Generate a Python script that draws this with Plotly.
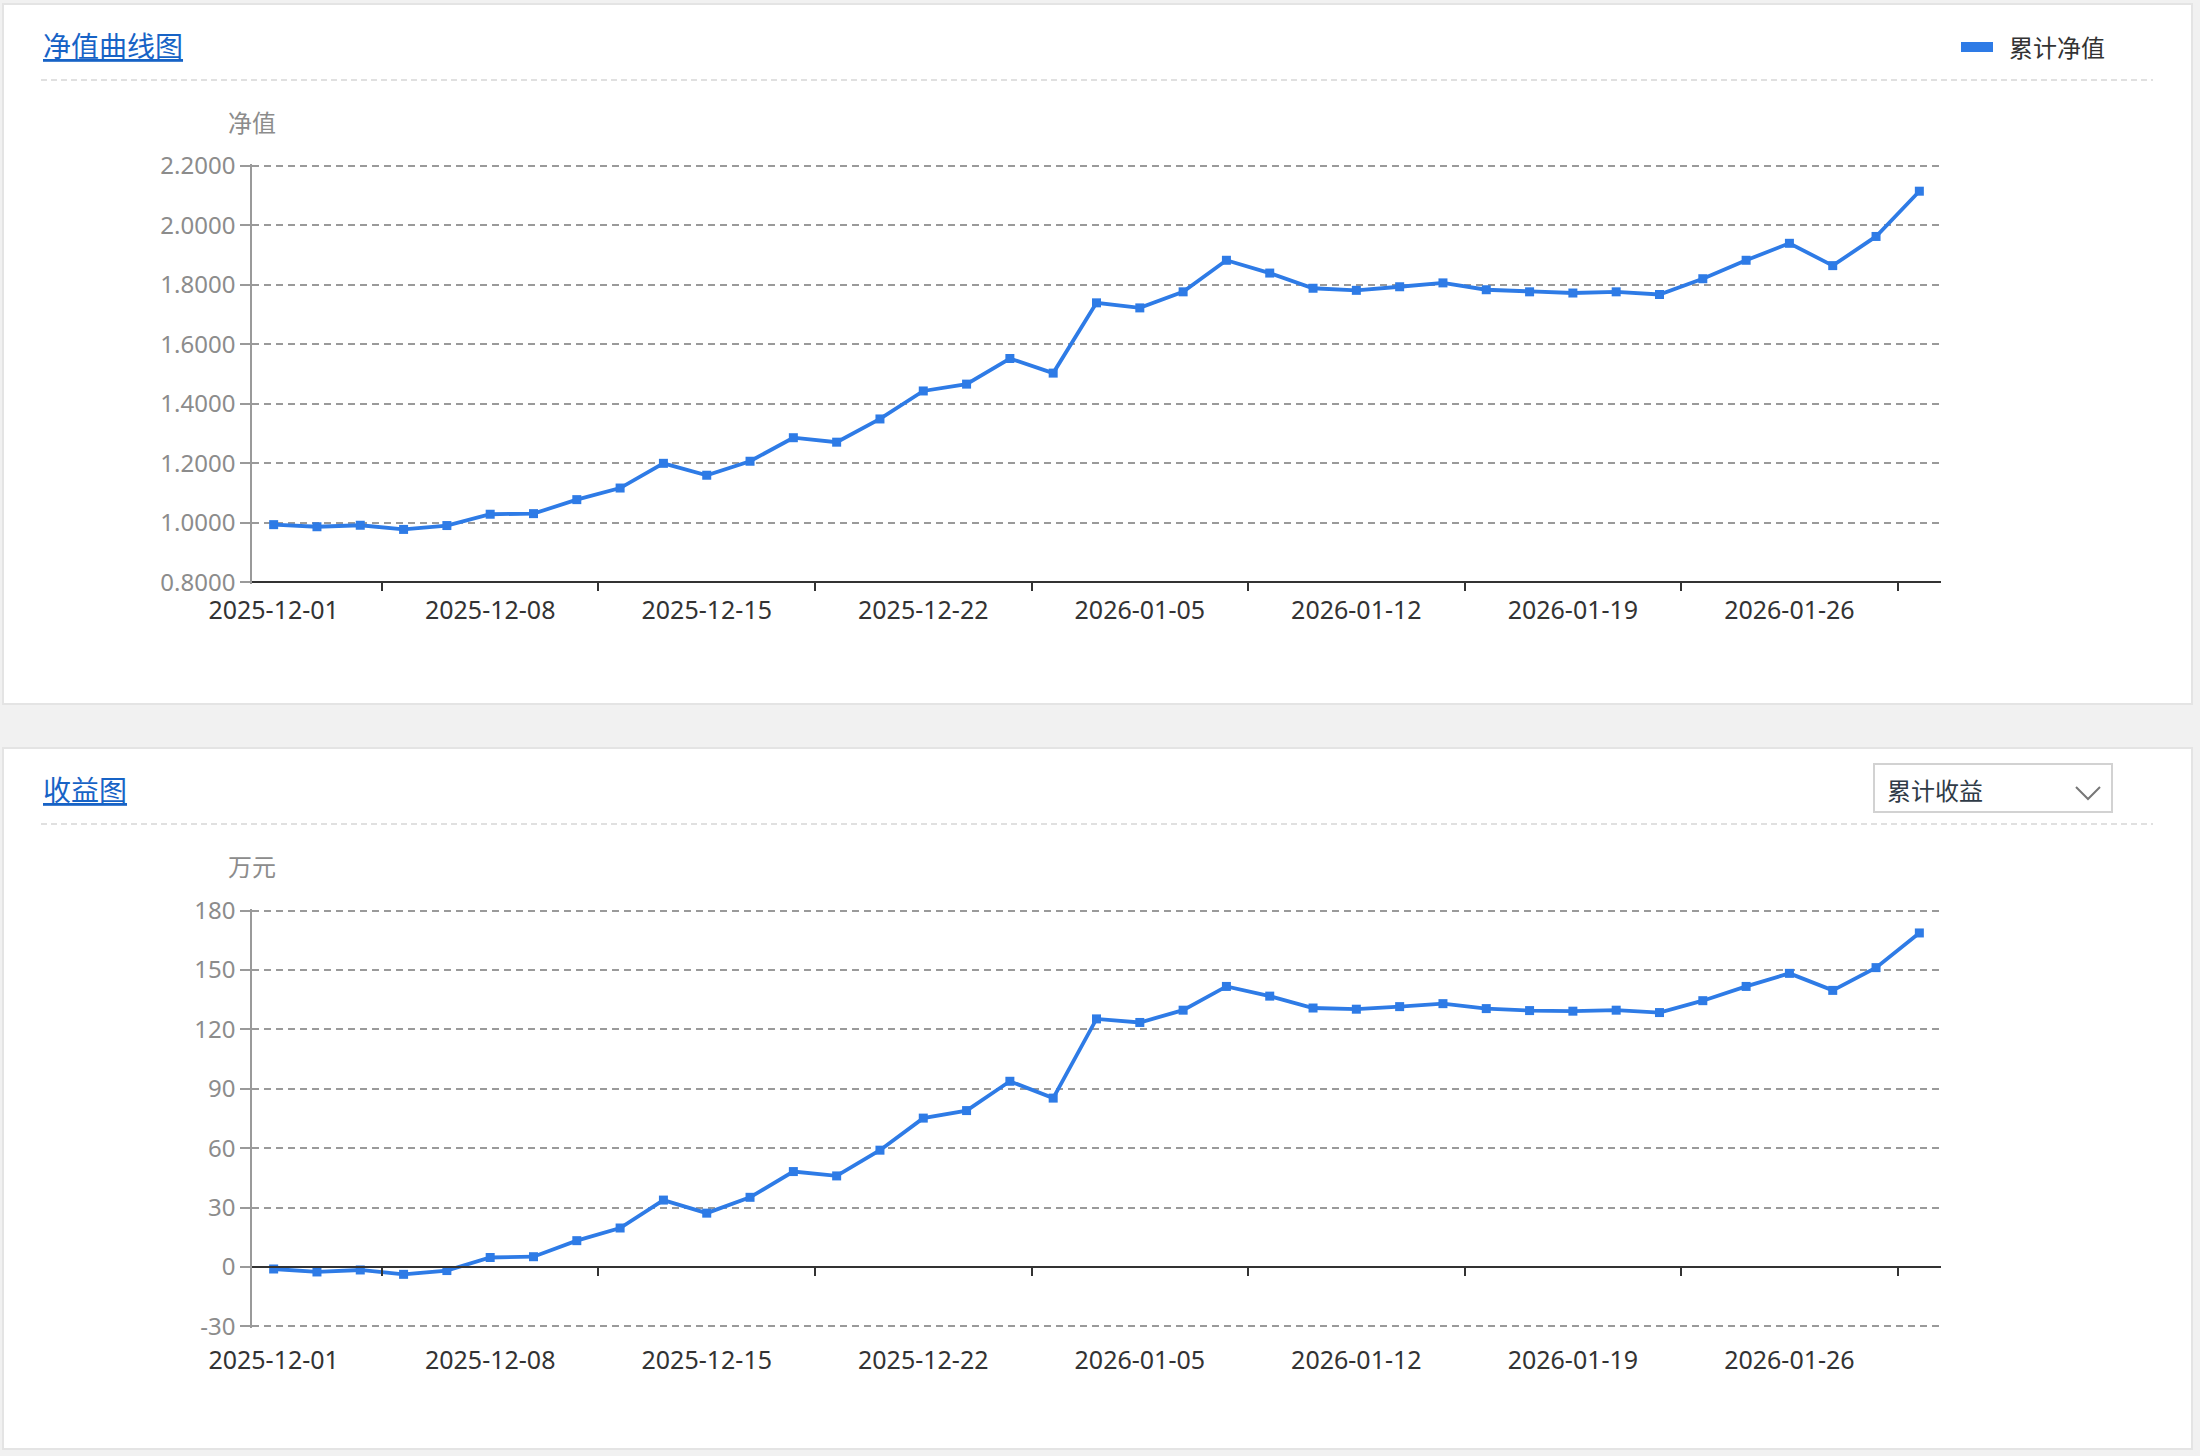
import plotly.graph_objects as go

# ---------------- data ----------------
dates = [
    "2025-12-01", "2025-12-02", "2025-12-03", "2025-12-04", "2025-12-05",
    "2025-12-08", "2025-12-09", "2025-12-10", "2025-12-11", "2025-12-12",
    "2025-12-15", "2025-12-16", "2025-12-17", "2025-12-18", "2025-12-19",
    "2025-12-22", "2025-12-23", "2025-12-24", "2025-12-25", "2025-12-26",
    "2026-01-05", "2026-01-06", "2026-01-07", "2026-01-08", "2026-01-09",
    "2026-01-12", "2026-01-13", "2026-01-14", "2026-01-15", "2026-01-16",
    "2026-01-19", "2026-01-20", "2026-01-21", "2026-01-22", "2026-01-23",
    "2026-01-26", "2026-01-27", "2026-01-28", "2026-01-29",
]
nav = [
    0.994, 0.987, 0.992, 0.978, 0.991,
    1.029, 1.031, 1.078, 1.117, 1.200,
    1.160, 1.207, 1.286, 1.271, 1.349,
    1.443, 1.466, 1.552, 1.503, 1.739,
    1.722, 1.776, 1.882, 1.839, 1.788,
    1.781, 1.793, 1.806, 1.783, 1.776,
    1.772, 1.776, 1.767, 1.820, 1.882,
    1.939, 1.864, 1.962, 2.114,
]
profit = [
    -1.0, -2.5, -1.5, -3.7, -1.8,
    4.8, 5.2, 13.3, 19.7, 33.8,
    27.2, 35.2, 48.2, 46.0, 59.0,
    75.2, 79.0, 93.8, 85.3, 125.3,
    123.5, 129.7, 141.7, 136.8, 130.8,
    130.2, 131.5, 133.0, 130.5, 129.5,
    129.2, 129.7, 128.5, 134.5, 141.7,
    148.3, 139.7, 151.2, 168.7,
]
x_tick_labels = ["2025-12-01", "2025-12-08", "2025-12-15", "2025-12-22",
                 "2026-01-05", "2026-01-12", "2026-01-19", "2026-01-26"]
nav_ticks = [0.8, 1.0, 1.2, 1.4, 1.6, 1.8, 2.0, 2.2]
profit_ticks = [-30, 0, 30, 60, 90, 120, 150, 180]

title1 = "净值曲线图"
title2 = "收益图"
legend_name = "累计净值"
y1_name = "净值"
y2_name = "万元"
dropdown_text = "累计收益"

# ---------------- style ----------------
W, H = 2200, 1456
BLUE = "#2e7be6"
FONT = "Noto Sans, Noto Sans CJK SC, sans-serif"
CJK = "Noto Sans CJK SC, Noto Sans, sans-serif"
GRID = "#9a9a9a"
AXIS_GREY = "#9a9a9a"
DARK = "#333333"
LABEL_GREY = "#8c8c8c"


def px(x):
    return x / W


def py(y):
    return 1 - y / H


n = len(dates)
xr = [-0.5, n - 0.5]
step = 5
boundary_ticks = [k - 0.5 for k in range(3, n, step)]

x_dom = [px(252), px(1941)]
y1_dom = [py(584), py(164)]
y2_dom = [py(1328), py(909)]


def padded(ticks, dom_px):
    span = ticks[-1] - ticks[0]
    eps = span * 1.6 / dom_px
    return [ticks[0] - eps, ticks[-1] + eps]


y1_range = padded(nav_ticks, 420)
y2_range = padded(profit_ticks, 419)


def pos_of(val, rng, dom):
    return dom[0] + (val - rng[0]) / (rng[1] - rng[0]) * (dom[1] - dom[0])


x1_line_pos = pos_of(nav_ticks[0], y1_range, y1_dom)
x2_line_pos = pos_of(0, y2_range, y2_dom)

fig = go.Figure()
fig.add_trace(go.Scatter(
    x=dates, y=nav, mode="lines+markers", name=legend_name,
    line=dict(color=BLUE, width=3.8),
    marker=dict(symbol="square", size=9, color=BLUE),
    xaxis="x", yaxis="y", showlegend=False,
))
fig.add_trace(go.Scatter(
    x=dates, y=profit, mode="lines+markers", name=dropdown_text,
    line=dict(color=BLUE, width=3.8),
    marker=dict(symbol="square", size=9, color=BLUE),
    xaxis="x2", yaxis="y2", showlegend=False,
))
# invisible carriers so the tick-only overlay axes get drawn
fig.add_trace(go.Scatter(x=[None], y=[None], xaxis="x3", yaxis="y",
                         showlegend=False, hoverinfo="skip"))
fig.add_trace(go.Scatter(x=[None], y=[None], xaxis="x4", yaxis="y2",
                         showlegend=False, hoverinfo="skip"))

label_axis = dict(
    type="category", range=xr, domain=x_dom, automargin=False,
    tickmode="array", tickvals=x_tick_labels, ticktext=x_tick_labels,
    ticks="outside", ticklen=4, tickcolor="rgba(0,0,0,0)",
    showline=False, showgrid=False, zeroline=False,
    tickfont=dict(family=FONT, size=25, color=DARK),
)
tick_axis = dict(
    type="linear", range=xr, domain=x_dom, automargin=False,
    tickmode="array", tickvals=boundary_ticks, showticklabels=False,
    ticks="outside", ticklen=8, tickwidth=2, tickcolor=DARK,
    showline=True, linecolor=DARK, linewidth=2,
    showgrid=False, zeroline=False, anchor="free",
)
y_common = dict(
    ticks="outside", ticklen=10, tickwidth=1.5, tickcolor=AXIS_GREY,
    showline=True, linecolor=AXIS_GREY, linewidth=1.5, automargin=False,
    showgrid=True, gridcolor=GRID, gridwidth=1.5, griddash="7px,5px",
    zeroline=False, tickfont=dict(family=FONT, size=24, color=LABEL_GREY),
    tickmode="array",
)

fig.update_layout(
    width=W, height=H,
    margin=dict(l=0, r=0, t=0, b=0, autoexpand=False),
    paper_bgcolor="#f1f1f1",
    plot_bgcolor="rgba(0,0,0,0)",
    showlegend=False,
    xaxis=dict(label_axis, anchor="y"),
    xaxis2=dict(label_axis, anchor="y2", ticklen=10),
    xaxis3=dict(tick_axis, overlaying="x", position=x1_line_pos),
    xaxis4=dict(tick_axis, overlaying="x2", position=x2_line_pos),
    yaxis=dict(y_common, domain=y1_dom, range=y1_range,
               tickvals=nav_ticks, ticktext=[f"{v:.4f}" for v in nav_ticks], anchor="x"),
    yaxis2=dict(y_common, domain=y2_dom, range=y2_range,
                tickvals=profit_ticks, ticktext=[str(v) for v in profit_ticks], anchor="x2"),
)

shapes = []
# panels
for top, bot in [(4, 704), (748, 1449)]:
    shapes.append(dict(type="rect", xref="paper", yref="paper", layer="below",
                       x0=px(3), x1=px(2192), y0=py(bot), y1=py(top),
                       fillcolor="white", line=dict(color="#e4e4e4", width=2)))
# separators
for y in [80, 824]:
    shapes.append(dict(type="line", xref="paper", yref="paper", layer="below",
                       x0=px(41), x1=px(2153), y0=py(y), y1=py(y),
                       line=dict(color="#e0e0e0", width=2, dash="6px,4px")))
# legend swatch
shapes.append(dict(type="rect", xref="paper", yref="paper",
                   x0=px(1961), x1=px(1993), y0=py(52), y1=py(42),
                   fillcolor=BLUE, line=dict(width=0)))
# dropdown box
shapes.append(dict(type="rect", xref="paper", yref="paper",
                   x0=px(1874), x1=px(2112), y0=py(812), y1=py(764),
                   fillcolor="white", line=dict(color="#d2d2d2", width=2)))
shapes.append(dict(type="path", xref="paper", yref="paper",
                   path=f"M {px(2076)} {py(787)} L {px(2088)} {py(799)} L {px(2100)} {py(787)}",
                   line=dict(color="#777777", width=2)))
fig.update_layout(shapes=shapes)

annotations = [
    dict(text=f"<u>{title1}</u>", x=px(41), y=py(45), xanchor="left", yanchor="middle",
         font=dict(family=CJK, size=28, color="#1763c6")),
    dict(text=f"<u>{title2}</u>", x=px(41), y=py(789), xanchor="left", yanchor="middle",
         font=dict(family=CJK, size=28, color="#1763c6")),
    dict(text=legend_name, x=px(2007), y=py(46), xanchor="left", yanchor="middle",
         font=dict(family=CJK, size=24, color="#333333")),
    dict(text=y1_name, x=px(252), y=py(121), xanchor="center", yanchor="middle",
         font=dict(family=CJK, size=24, color=LABEL_GREY)),
    dict(text=y2_name, x=px(252), y=py(865), xanchor="center", yanchor="middle",
         font=dict(family=CJK, size=24, color=LABEL_GREY)),
    dict(text=dropdown_text, x=px(1885), y=py(790), xanchor="left", yanchor="middle",
         font=dict(family=CJK, size=24, color="#2f3b47")),
]
for a in annotations:
    a.update(xref="paper", yref="paper", showarrow=False)
fig.update_layout(annotations=annotations)

fig.write_html("out.html", config={"displayModeBar": False},
               post_script="document.body.style.margin='0';document.body.style.overflow='hidden';")
